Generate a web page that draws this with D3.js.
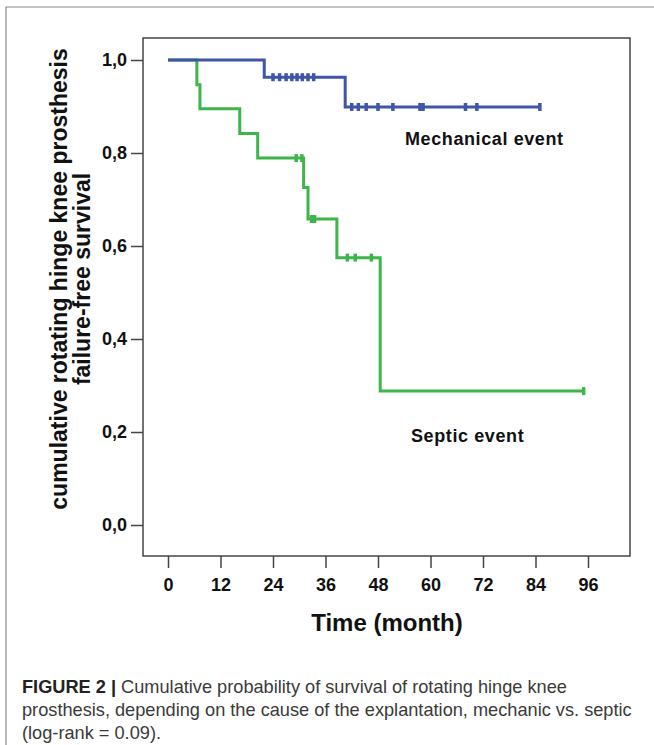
<!DOCTYPE html>
<html>
<head>
<meta charset="utf-8">
<script src="https://cdn.jsdelivr.net/npm/d3@7"></script>
<style>
  body { margin: 0; background: #fff; }
  svg { display: block; }
</style>
</head>
<body>
<div id="chart"></div>
<script>
// Kaplan-Meier steps
const mechStepTimes = [0, 22, 40.5];
const mechStepSurv = [1.0, 0.963, 0.899];
const mechEndTime = 85;
const mechCensorTimes = [24, 25.5, 27, 28.3, 29.5, 30.7, 32, 33.3, 42, 43.5, 45.3, 48, 51.4, 57.6, 58.3, 68, 70.6, 85];

const septStepTimes = [0, 6.6, 7.3, 16.4, 20.5, 31, 32, 38.6, 48.5];
const septStepSurv = [1.0, 0.947, 0.895, 0.842, 0.789, 0.726, 0.658, 0.575, 0.288];
const septEndTime = 95;
const septCensorTimes = [29.3, 30.6, 32.8, 33.5, 41, 42.8, 46.5, 95];

const xTicks = [0, 12, 24, 36, 48, 60, 72, 84, 96];
const yTicks = [0, 0.2, 0.4, 0.6, 0.8, 1.0];

const W = 654, H = 745;
const box = {left: 143, top: 38, right: 630, bottom: 556};

const svg = d3.select("#chart").append("svg")
    .attr("width", W)
    .attr("height", H);

// outer figure frame
svg.append("path")
    .attr("d", `M6,${H} L6,7 L${W},7`)
    .attr("fill", "none")
    .attr("stroke", "#8a8a8a")
    .attr("stroke-width", 1.2);

const x = d3.scaleLinear().domain([0, 96]).range([168, 588]);
const y = d3.scaleLinear().domain([0, 1]).range([525, 60]);

// plot box
svg.append("rect")
    .attr("x", box.left)
    .attr("y", box.top)
    .attr("width", box.right - box.left)
    .attr("height", box.bottom - box.top)
    .attr("fill", "none")
    .attr("stroke", "#444")
    .attr("stroke-width", 1.5);

// x axis
const xAxis = svg.append("g")
    .attr("transform", `translate(0,${box.bottom})`)
    .call(d3.axisBottom(x).tickValues(xTicks).tickSize(12).tickPadding(10).tickSizeOuter(0));
xAxis.select(".domain").remove();
xAxis.selectAll(".tick line").attr("stroke", "#444").attr("stroke-width", 1.5);
xAxis.selectAll(".tick text")
    .attr("fill", "#111")
    .style("font", "bold 18px 'Liberation Sans', Arial, sans-serif");

// y axis
const yAxis = svg.append("g")
    .attr("transform", `translate(${box.left},0)`)
    .call(d3.axisLeft(y).tickValues(yTicks).tickSize(12).tickPadding(4)
        .tickFormat(d => d3.format(".1f")(d).replace(".", ",")));
yAxis.select(".domain").remove();
yAxis.selectAll(".tick line").attr("stroke", "#444").attr("stroke-width", 1.5);
yAxis.selectAll(".tick text")
    .attr("fill", "#111")
    .style("font", "bold 18px 'Liberation Sans', Arial, sans-serif");

// axis titles
svg.append("text")
    .attr("x", 387)
    .attr("y", 631)
    .attr("text-anchor", "middle")
    .attr("fill", "#111")
    .style("font", "bold 24px 'Liberation Sans', Arial, sans-serif")
    .text("Time (month)");

const yTitle = svg.append("text")
    .attr("transform", "translate(0,279) rotate(-90)")
    .attr("text-anchor", "middle")
    .attr("fill", "#111")
    .style("font", "bold 23px 'Liberation Sans', Arial, sans-serif");
yTitle.append("tspan").attr("x", 0).attr("y", 67).text("cumulative rotating hinge knee prosthesis");
yTitle.append("tspan").attr("x", 0).attr("y", 90).text("failure-free survival");

// step curves
function stepPath(times, surv, endTime) {
    const pts = times.map((t, i) => [t, surv[i]]);
    pts.push([endTime, surv[surv.length - 1]]);
    return d3.line()
        .x(d => x(d[0]))
        .y(d => y(d[1]))
        .curve(d3.curveStepAfter)(pts);
}

function survAt(times, surv, t) {
    let s = surv[0];
    times.forEach((tt, i) => { if (tt <= t) s = surv[i]; });
    return s;
}

const series = [
    {times: septStepTimes, surv: septStepSurv, end: septEndTime, censor: septCensorTimes, color: "#3db54b"},
    {times: mechStepTimes, surv: mechStepSurv, end: mechEndTime, censor: mechCensorTimes, color: "#3e55a8"}
];

series.forEach(s => {
    svg.append("path")
        .attr("d", stepPath(s.times, s.surv, s.end))
        .attr("fill", "none")
        .attr("stroke", s.color)
        .attr("stroke-width", 3);

    svg.append("g").selectAll("line")
        .data(s.censor)
        .join("line")
        .attr("x1", d => x(d))
        .attr("x2", d => x(d))
        .attr("y1", d => y(survAt(s.times, s.surv, d)) - 4)
        .attr("y2", d => y(survAt(s.times, s.surv, d)) + 4)
        .attr("stroke", s.color)
        .attr("stroke-width", 3.5);
});

// curve labels
svg.append("text")
    .attr("x", 405)
    .attr("y", 145)
    .attr("fill", "#111")
    .style("font", "bold 18px 'Liberation Sans', Arial, sans-serif")
    .style("letter-spacing", "0.6px")
    .text("Mechanical event");

svg.append("text")
    .attr("x", 411)
    .attr("y", 442)
    .attr("fill", "#111")
    .style("font", "bold 18px 'Liberation Sans', Arial, sans-serif")
    .style("letter-spacing", "0.6px")
    .text("Septic event");

// caption
const capLines = [
    "Cumulative probability of survival of rotating hinge knee",
    "prosthesis, depending on the cause of the explantation, mechanic vs. septic",
    "(log-rank = 0.09)."
];
const cap = svg.append("g")
    .style("font", "18.2px 'Liberation Sans', Arial, sans-serif")
    .attr("fill", "#3a3a3a");
const first = cap.append("text").attr("x", 22).attr("y", 693);
first.append("tspan").style("font-weight", "bold").attr("fill", "#222").text("FIGURE 2 | ");
first.append("tspan").text(capLines[0]);
cap.append("text").attr("x", 22).attr("y", 716).text(capLines[1]);
cap.append("text").attr("x", 22).attr("y", 739).text(capLines[2]);
</script>
</body>
</html>
